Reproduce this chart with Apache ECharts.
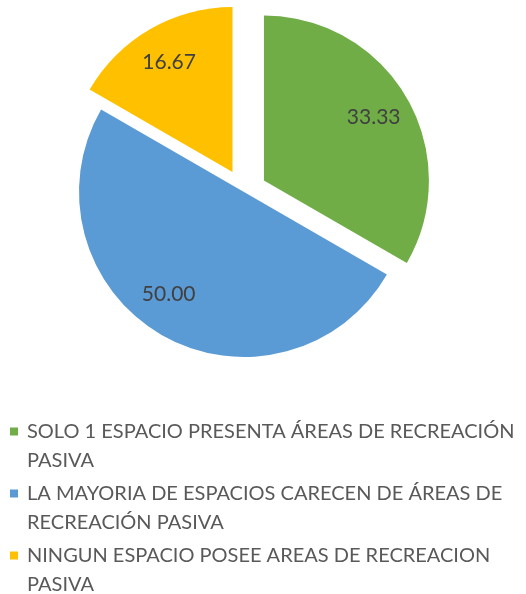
<!DOCTYPE html>
<html>
<head>
<meta charset="utf-8">
<script src="https://cdn.jsdelivr.net/npm/echarts@6/dist/echarts.min.js"></script>
<style>
  html, body { margin: 0; padding: 0; background: #fff; }
  #pieChart { width: 526px; height: 594px; }
</style>
</head>
<body>
<div id="pieChart"></div>
<script type="text/javascript">
// categories (line breaks as in the original legend)
const categories = [
  'SOLO 1 ESPACIO PRESENTA ÁREAS DE RECREACIÓN\nPASIVA',
  'LA MAYORIA DE ESPACIOS CARECEN DE ÁREAS DE\nRECREACIÓN PASIVA',
  'NINGUN ESPACIO POSEE AREAS DE RECREACION\nPASIVA'
]
const values = [33.33, 50.00, 16.67]
const colors = ['#70AD47', '#5B9BD5', '#FFC000']
const exploded = [true, false, true]
// small nudges of the value labels
const labelShift = [[-3, 3], [-12, -8], [0, 0]]

const fontName = 'Lato'

const pieData = categories.map((name, i) => ({
  name: name,
  value: values[i],
  selected: exploded[i],
  itemStyle: { color: colors[i] }
}))

// same slices, transparent, only used to put the labels at 3/4 of the radius
const labelData = categories.map((name, i) => ({
  name: name,
  value: values[i],
  selected: exploded[i],
  label: { offset: labelShift[i] }
}))

const pieOption = {
  animation: false,
  legend: {
    orient: 'vertical',
    left: 10,
    top: 417,
    width: 516,
    height: 200,
    padding: 0,
    itemGap: 4,
    itemWidth: 12,
    itemHeight: 58,
    icon: 'path://M0,0M0,10.5L8,10.5L8,18.5L0,18.5ZM12,58',
    selectedMode: false,
    textStyle: {
      fontFamily: fontName,
      fontSize: 20,
      lineHeight: 29,
      color: '#595959'
    }
  },
  series: [
    {
      type: 'pie',
      center: [244, 192],
      radius: [0, 165],
      startAngle: 90,
      selectedMode: 'multiple',
      selectedOffset: 23,
      silent: true,
      label: { show: false },
      labelLine: { show: false },
      emphasis: { scale: false },
      data: pieData
    },
    {
      type: 'pie',
      center: [244, 192],
      radius: [82.5, 165],
      startAngle: 90,
      selectedMode: 'multiple',
      selectedOffset: 23,
      silent: true,
      itemStyle: { color: 'rgba(0,0,0,0)' },
      label: {
        show: true,
        position: 'inside',
        fontFamily: fontName,
        fontSize: 21,
        color: '#404040',
        formatter: p => p.value.toFixed(2)
      },
      labelLine: { show: false },
      emphasis: { scale: false },
      data: labelData
    }
  ]
}

const pieChart = echarts.init(document.getElementById('pieChart'))
pieChart.setOption(pieOption)
</script>
</body>
</html>
